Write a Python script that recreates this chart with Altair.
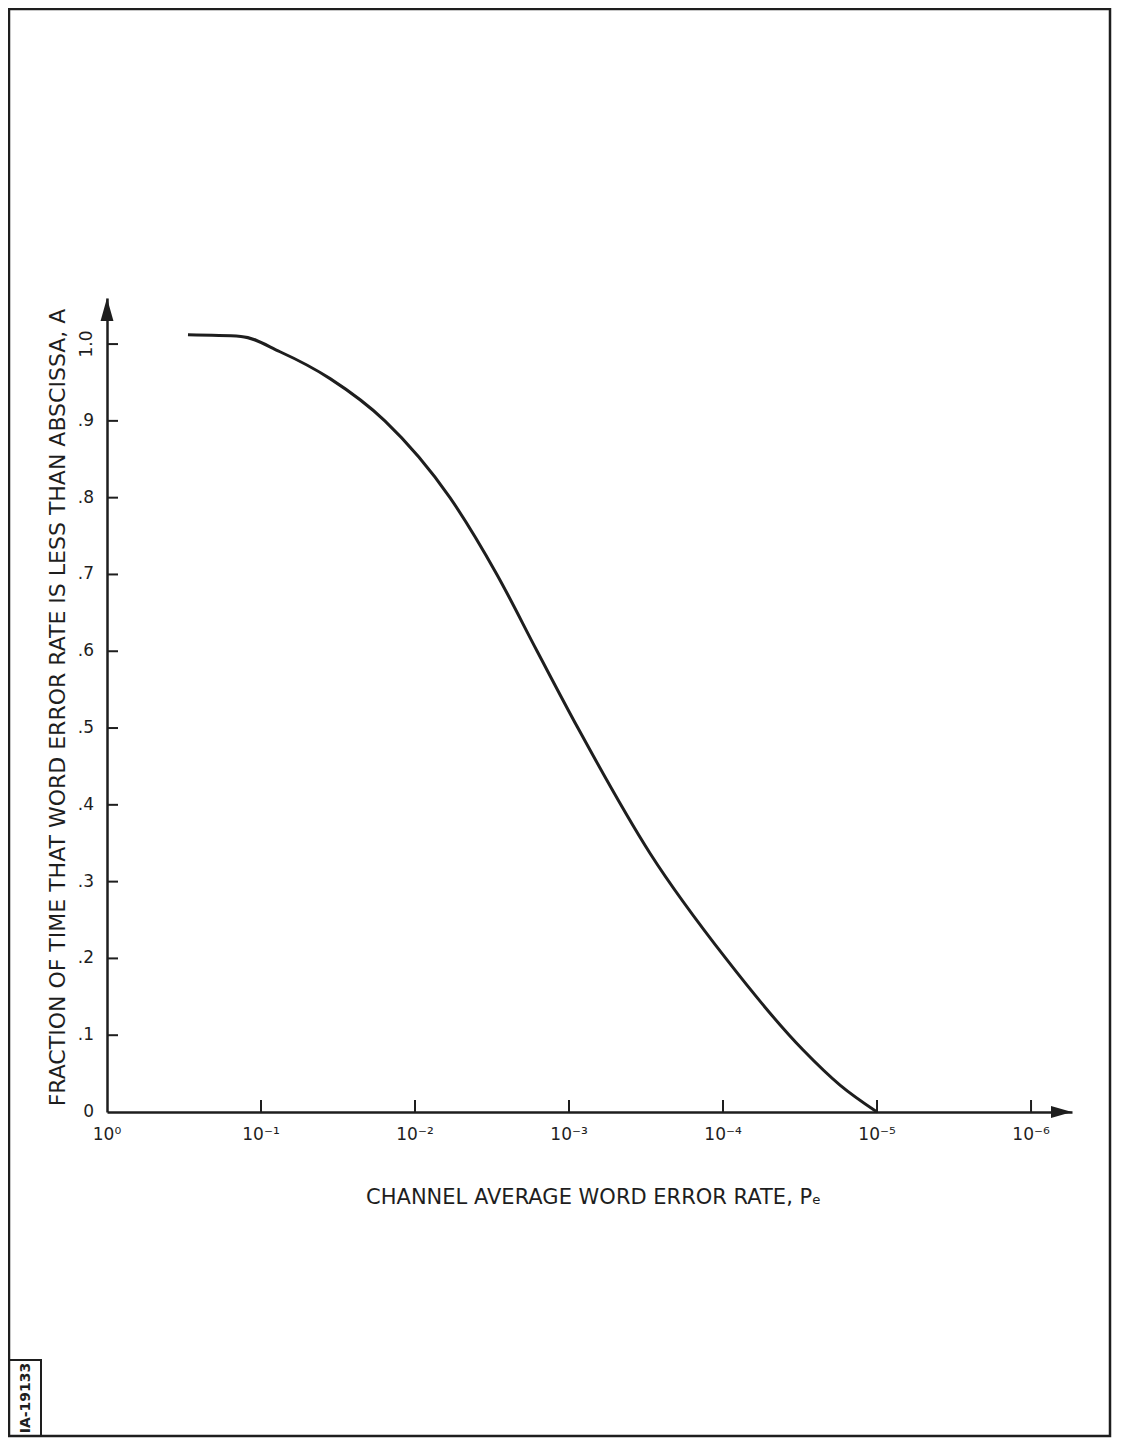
import altair as alt
import pandas as pd

# ---- data ----
pe = [0.298, 0.135, 0.0753, 0.0356, 0.0157, 0.00593, 0.00294, 0.00161,
      0.000875, 0.000298, 9.42e-5, 3.03e-5, 1.74e-5, 1.0e-5]
frac = [1.012, 1.010, 0.990, 0.955, 0.900, 0.800, 0.700, 0.600,
        0.500, 0.337, 0.198, 0.081, 0.035, 0.000]

x_tick_values = [1, 1e-1, 1e-2, 1e-3, 1e-4, 1e-5, 1e-6]
x_tick_labels = ["10⁰", "10⁻¹", "10⁻²", "10⁻³", "10⁻⁴", "10⁻⁵", "10⁻⁶"]
y_tick_values = [0, 0.1, 0.2, 0.3, 0.4, 0.5, 0.6, 0.7, 0.8, 0.9, 1.0]
y_tick_labels = ["0", ".1", ".2", ".3", ".4", ".5", ".6", ".7", ".8", ".9", "1.0"]

x_title = "CHANNEL AVERAGE WORD ERROR RATE, Pₑ"
y_title = "FRACTION OF TIME THAT WORD ERROR RATE IS LESS THAN ABSCISSA, A"
stamp = ["IA-19133"]

# ---- layout ----
W, H = 965, 814
X_MIN = 10 ** -6.266
Y_MAX = 1.06
INK = "#1e1e1e"
FONT = "DejaVu Sans"

xs = alt.Scale(type="log", domain=[1, X_MIN], nice=False, zero=False)
ys = alt.Scale(domain=[0, Y_MAX], nice=False, zero=False)

curve_df = pd.DataFrame({"pe": pe, "frac": frac})
xt_df = pd.DataFrame({"v": x_tick_values, "lab": x_tick_labels})
yt_df = pd.DataFrame({"v": y_tick_values, "lab": y_tick_labels})

curve = alt.Chart(curve_df).mark_line(
    color=INK, strokeWidth=3, interpolate="monotone"
).encode(
    x=alt.X("pe:Q", scale=xs,
            axis=alt.Axis(labels=False, ticks=False, grid=False, domainColor=INK,
                          domainWidth=2.5, title=x_title, titleFont=FONT,
                          titleFontSize=21, titleFontWeight="normal", titleColor=INK,
                          titleX=486, titleY=85, titleAlign="center",
                          titleBaseline="middle")),
    y=alt.Y("frac:Q", scale=ys,
            axis=alt.Axis(labels=False, ticks=False, grid=False, domainColor=INK,
                          domainWidth=2.5, title=y_title, titleFont=FONT,
                          titleFontSize=22, titleFontWeight="normal", titleColor=INK,
                          titleX=-50, titleY=409, titleAngle=270,
                          titleAlign="center", titleBaseline="middle")),
)

x_ticks = alt.Chart(xt_df[xt_df.v < 1]).mark_rule(color=INK, strokeWidth=2).encode(
    x=alt.X("v:Q", scale=xs), y=alt.value(H), y2=alt.value(H - 12)
)
x_labels = alt.Chart(xt_df).mark_text(
    font=FONT, fontSize=17, color=INK, baseline="middle", align="center"
).encode(x=alt.X("v:Q", scale=xs), y=alt.value(H + 23), text="lab:N")

y_ticks = alt.Chart(yt_df[yt_df.v > 0]).mark_rule(color=INK, strokeWidth=2).encode(
    y=alt.Y("v:Q", scale=ys), x=alt.value(0), x2=alt.value(11)
)
y_labels = alt.Chart(yt_df[yt_df.v < 1]).mark_text(
    font=FONT, fontSize=17, color=INK, baseline="middle", align="right"
).encode(y=alt.Y("v:Q", scale=ys), x=alt.value(-13), text="lab:N")
y_label_top = alt.Chart(yt_df[yt_df.v >= 1]).mark_text(
    font=FONT, fontSize=17, color=INK, baseline="middle", align="center", angle=270
).encode(y=alt.Y("v:Q", scale=ys), x=alt.value(-20), text="lab:N")

arrow_x = alt.Chart(pd.DataFrame({"x": [X_MIN], "y": [0]})).mark_point(
    shape="M0,0 L-1,-0.28 L-1,0.28 Z", filled=True, color=INK, opacity=1, size=1764
).encode(x=alt.X("x:Q", scale=xs), y=alt.Y("y:Q", scale=ys))
arrow_y = alt.Chart(pd.DataFrame({"x": [1], "y": [Y_MAX]})).mark_point(
    shape="M0,0 L-0.28,1 L0.28,1 Z", filled=True, color=INK, opacity=1, size=2116
).encode(x=alt.X("x:Q", scale=xs), y=alt.Y("y:Q", scale=ys))

frame = alt.Chart(pd.DataFrame({"a": [0]})).mark_rect(
    fill=None, fillOpacity=0, stroke=INK, strokeWidth=2.5
).encode(x=alt.value(-98), x2=alt.value(1003), y=alt.value(-289), y2=alt.value(1138))

stamp_box = alt.Chart(pd.DataFrame({"a": [0]})).mark_rect(
    fill=None, fillOpacity=0, stroke=INK, strokeWidth=2
).encode(x=alt.value(-98), x2=alt.value(-66), y=alt.value(1062), y2=alt.value(1138))
stamp_text = alt.Chart(pd.DataFrame({"t": stamp})).mark_text(
    font=FONT, fontSize=14, fontWeight="bold", color=INK, angle=270,
    align="center", baseline="middle"
).encode(x=alt.value(-81), y=alt.value(1100), text="t:N")

chart = alt.layer(
    frame, stamp_box, stamp_text, curve, x_ticks, y_ticks, x_labels, y_labels,
    y_label_top, arrow_x, arrow_y
).properties(
    width=W, height=H,
    autosize=alt.AutoSizeParams(type="none"),
    padding={"left": 99, "top": 290, "right": 40, "bottom": 326},
    background="white",
).configure_view(stroke=None)

chart.save("out.html", embed_options={"renderer": "svg", "actions": False})
